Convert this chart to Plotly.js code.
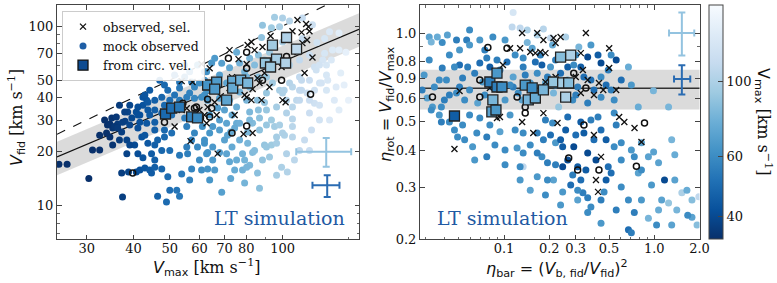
<!DOCTYPE html>
<html>
<head>
<meta charset="utf-8">
<script src="https://cdn.plot.ly/plotly-3.0.1.min.js"></script>
<style>html,body{margin:0;padding:0;background:#fff;}#chart{width:777px;height:283px;}</style>
</head>
<body>
<div id="chart"></div>
<script>
// ---------------- LEFT PANEL DATA (Vmax vs Vfid, km/s) ----------------
const leftDotVmax = [25.3,26.6,30.4,31.1,32.5,34.1,34.6,35.0,36.0,36.3,35.2,37.2,38.4,35.2,39.6,40.7,38.6,41.6,41.1,42.4,43.7,43.4,37.4,37.2,38.8,40.7,41.6,42.9,44.2,44.7,45.6,47.6,49.4,53.8,57.2,60.8,63.1,50.0,52.2,53.1,49.0,46.4,40.3,38.4,41.1,42.4,44.7,45.6,47.6,48.4,50.6,48.4,50.0,53.1,55.8,55.5,57.2,59.3,61.9,63.1,63.9,45.6,46.4,43.7,42.1,34.6,35.6,33.9,67.9,75.4,83.2,86.8,90.6,89.5,93.4,96.4,101.2,106.3,102.5,99.4,85.7,81.7,78.2,74.5,72.2,70.9,67.9,65.9,68.8,92.3,83.2,78.2,73.3,80.7,76.8,71.3,65.1,62.7,61.9,80.7,95.2,95.2,100,104.4,88.4,93.4,98.2,87.9,100,113,123.5,129.5,131,135,141.5,147.6,143,139,131,121.7,125.5,118,111,112.4,106.3,109,102.5,98.2,94.0,90.6,86.2,81.7,90.6,96.4,102.5,90.6,85.7,80.2,76.8,75.4,81.7,86.8,93.4,98.2,73.3,70.0,67.9,63.9,65.1,70.9,76.8,61.1,67.9,63.1,72.2,65.1,70.9,75.4,80.2,72.2,67.9,62.7,76.8,81.7,75.4,86.2,92.3,56.5,54.8,53.1,57.2,58.2,53.1,49.4,51.5,47.6,45.6,43.7,42.4,41.1,50.0,55.5,58.2,60.8,62.7,60.0,45.6,44.2,47.6,41.1,38.0,37.4,39.1,41.6,43.4,45.6,36.3,106.3,111,116.3,121.7,127,132,136,128,123,112.4,104.4,100,106.3,100,96.4,90.6,80.2,75.4,141.5,133.5,120.2,113,129.5,131,121.7,118,59.3,61.9,64.7,
  55.5,58.2,60,65.1,70,72.7,79.2,84.2,88.4,79.2,72.7,63.9,56.5,86.8,96.4,111,107.6,103,114.5,119.5,125.5,118,65.9,68.8,61.9,54.8,51.5,48.4,47,44.2,42.9,39.1,36.7,37.9,89.5,84.2,79.2,104.4,111,118,125.5,111,118,125.5,137.5,146,150,133.5,141.5,106.3,101,89.5,86.2,81.7,74.5,70,67.1,61.9,56.5,53.1,50.6,54.8,48.4,45.6,42.9,39.1,36.7,32.5,33.5];
const leftDotVfid = [17.0,17.0,14.2,20.4,20.4,28.1,24.1,30.8,31.2,28.5,27.1,25.7,23.2,21.8,30.8,33.2,33.2,32.0,27.1,36.3,34.1,38.7,11.2,15.2,15.4,15.4,15.8,16.2,15.8,15.2,16.4,16.0,14.5,15.0,16.0,15.8,16.0,12.2,12.2,11.3,10.5,11.3,21.8,19.5,19.5,18.5,19.5,18.0,20.3,24.1,25.4,26.4,20.3,19.1,19.5,21.2,23.2,21.2,22.3,19.8,25.4,21.8,23.2,22.3,24.1,28.5,27.6,25.4,26.4,28.8,28.8,26.4,28.1,21.8,21.8,24.1,24.7,24.1,19.5,16.4,15.2,16.8,15.8,15.8,17.6,19.5,19.8,15.8,11.9,18.7,19.8,19.5,21.2,22.3,23.2,24.7,21.2,19.5,23.2,25.7,27.6,112,111,106.6,101,98,99,86.4,81.5,85.3,81,70.6,60.7,64.7,73.5,71.6,54.8,45.8,53.4,59.2,48.2,50,52,44.0,45.8,38.7,38.7,44,48.2,52,52,45.8,42.4,35.4,32.8,34.1,38.7,38.7,42.9,35.4,33.2,30.8,30.0,28.1,32.0,34.1,30.0,32.0,27.6,28.8,28.8,27.6,39.7,38.7,38.7,47.0,48.2,50,52,58.7,53.4,55.7,62.3,66.3,71.6,69.0,71.6,55.7,52,48.8,48.8,45.8,45.2,44.0,41.3,40.2,38.7,37.7,40.2,35.4,38.7,40.2,39.7,40.2,44.0,48.2,34.1,32.0,32.8,32.0,29.5,29.2,28.1,29.2,28.8,29.2,27.1,35.4,38.7,42.4,44.0,48.2,50,73.5,64.7,56.9,50,48.2,42.4,27.6,25.4,22.3,21.2,16.4,18.0,91.5,92.9,101.8,111,85.3,44.0,37.2,32.8,60.7,55.7,62.3,
  27.6,25.4,18.0,18.0,23.2,25.7,18.0,20.3,18.0,13.4,14.2,13.9,13.9,12.5,14.8,20.3,18.0,15.4,23.2,26.4,30.0,20.3,66.3,62.0,50,60.7,53.4,47.0,50,44.0,41.3,36.3,36.3,33.2,64.7,60.7,55.7,60.7,64.7,69,60.7,44.0,38.7,36.3,38.7,47,38.7,30.0,34.1,30.4,44,37.5,34.1,30.0,27.1,38.7,35.0,41.3,42.4,38.7,32.0,30.8,36.3,26.4,24.7,21.8,23.2,24.7,30.0];

const leftObsVmax = [60.8,63.9,53.8,57.5,51.5,56.8,72.2,76.3,80.7,82.6,84.2,80.2,88.4,92.9,98.8,109.6,115.6,117.3,118,112.4,106.3,116.3,113,109.6,120.2,114.5,99.4,93.4,89.5,85.7,86.8,75.9,73.3,72.2,66.7,68.4,65.9,63.1,60,58.9,61.9,55.5,53.8,62.7,66.7,74.5,79.2,82.6,87.9,92.3,101.9,83.2,80.2,83.2,78.7,67.1,100];
const leftObsVfid = [61.5,58.3,49.4,48.8,27.6,22.9,73.5,65.5,78.4,81.5,73.5,61.5,76.4,88.0,64.7,108,102.7,99,93.5,92.2,93.5,83.6,80.4,71.6,66.8,54.8,59.2,58.3,54.8,51.3,48.2,48.8,52,45.2,44.0,40.7,37.7,35.4,34.1,32.8,32.0,34.9,34.1,28.8,32.0,32.0,41.3,38.7,38.7,45.8,37.7,44.6,40.2,25.4,25.1,19.5,38.7];

const leftRingVmax = [71.7,80.2,80.2,88.4,99.4,102.5,63.1,58.9,54.2,60.4,63.9,48.4,73.3,80.2,118.8,39.8,58.2,64.7];
const leftRingVfid = [66.3,71.6,58.3,50,50,67.6,39.2,35.4,37.2,30.8,31.2,29.2,25.4,27.8,41.8,15.2,34.9,34.9];

const leftCircVmax = [48.7,50.6,53.1,57.2,59.3,63.1,66.7,65.9,70.9,73.6,73.6,77.3,80.7,90.0,94.0,96.4,92.9,102.5,101.9,109.0];
const leftCircVfid = [32.4,34.9,35.4,31.2,30.8,47.0,48.8,44.6,38.7,49.4,45.2,50,48.2,62.3,78.4,65.5,59.2,86.4,62.3,74.5];

const leftRelX = [25, 160];
const leftRelY = [18.7, 95.9];
const leftBandLow = [14.8, 76.7];
const leftBandHigh = [22.7, 117.7];
const oneToOneX = [25, 160];
const oneToOneY = [25, 160];

const leftErrX = [130.8, 131.6];
const leftErrY = [20.0, 13.0];
const leftErrXPlus = [21.7, 10.3];
const leftErrXMinus = [22.0, 11.4];
const leftErrYPlus = [3.8, 1.8];
const leftErrYMinus = [3.5, 1.8];

// ---------------- RIGHT PANEL DATA (eta_bar, eta_rot, Vmax) ----------------
const rightDotEtaBar = [0.115,0.1132,0.128,0.1428,0.1829,0.1664,0.2039,0.2572,0.1428,0.154,0.2104,0.0318,0.036,0.042,0.0388,0.0328,0.0483,0.0506,0.0564,0.069,0.0843,0.1341,0.3147,0.4223,0.0285,0.0308,0.0334,0.0383,0.0414,0.0506,0.053,0.0573,0.059,0.0638,0.0723,0.0668,0.083,0.094,0.087,0.115,0.1242,0.1341,0.1495,0.1664,0.1664,0.1887,0.2039,0.2135,0.231,0.2655,0.2866,0.3093,0.3402,0.3605,0.3968,0.4423,0.5164,0.541,0.6029,0.783,1.245,0.987,0.0328,0.0383,0.053,0.0659,0.0768,0.1016,0.1341,0.1787,0.1947,0.2203,0.2572,0.2104,0.2135,0.2457,0.2655,0.3093,0.3245,0.335,0.3605,0.3968,0.4423,0.4939,0.541,0.6029,0.6731,0.7364,0.783,0.914,1.068,1.17,1.37,1.245,1.526,1.782,1.98,1.782,1.67,0.6731,0.7038,0.914,1.068,0.4423,0.3788,0.3093,0.1664,0.1947,0.6029,0.8215,0.99,1.37,1.306,0.7364,0.4223,0.541,0.3245,0.2655,0.3402,0.2912,0.2457,0.1341,0.1664,0.1829,0.1222,0.094,0.069,0.0491,0.0433,0.0618,0.0768,0.128,0.1341,0.1664,0.2457,0.2866,0.3093,0.3605,0.4634,0.5164,0.3605,0.0344,0.0401,0.0483,0.0388,0.0468,0.0506,0.069,0.0768,0.0805,0.0898,0.1047,0.115,0.132,0.1616,0.1787,0.1947,0.238,0.2655,0.2912,0.3245,0.3605,0.4423,0.4939,0.6731,0.4423,0.558,
  0.1887,0.2039,0.238,0.3003,0.3788,0.4423,0.4779,0.4093,0.3506,0.2779,0.2203,0.1495,0.1186,0.1097,0.0805,0.059,0.0468,0.0371,0.6029,0.558,0.7038,0.8215,0.959,1.12,0.8215,0.558,0.4779,0.238,0.1887,0.1495,0.128,0.1016,0.087,0.0638,0.0547,1.412,1.649,1.926,1.306,1.036,
  0.0433,0.059,0.0745,0.1016,0.1186,0.1746,0.2203,0.3003,0.3788,0.5164,0.0371,0.0433,0.0547,0.0745,0.1016,0.1097,0.1384,0.2203,0.3003,0.3788,0.4779,0.7038,0.0294,0.0318,0.059];
const rightDotEtaRot = [1.174,1.048,1.040,1.024,1.032,0.984,0.962,0.970,0.929,0.888,0.911,0.970,0.970,0.984,0.929,0.933,0.947,0.876,0.947,0.947,0.970,0.823,0.897,0.842,0.641,0.602,0.561,0.561,0.693,0.779,0.704,0.767,0.641,0.731,0.682,0.579,0.656,0.749,0.548,0.709,0.626,0.767,0.677,0.731,0.593,0.677,0.767,0.626,0.561,0.693,0.593,0.656,0.709,0.579,0.641,0.606,0.641,0.593,0.693,0.561,0.561,0.637,0.548,0.499,0.487,0.458,0.444,0.401,0.352,0.380,0.363,0.424,0.469,0.495,0.317,0.289,0.371,0.352,0.317,0.287,0.392,0.434,0.271,0.352,0.411,0.300,0.271,0.246,0.335,0.380,0.363,0.317,0.317,0.265,0.287,0.271,0.278,0.237,0.241,0.215,0.210,0.235,0.251,0.226,0.257,0.271,0.325,0.317,0.424,0.424,0.395,0.386,0.434,0.380,0.519,0.535,0.499,0.519,0.458,0.411,0.411,0.458,0.458,0.434,0.407,0.462,0.515,0.444,0.499,0.411,0.380,0.352,0.392,0.392,0.352,0.330,0.293,0.276,0.289,0.335,0.246,0.656,0.593,0.626,0.761,0.767,0.656,0.791,0.823,0.767,0.810,0.797,0.656,0.593,0.797,0.779,0.709,0.731,0.767,0.779,0.767,0.829,0.709,0.749,0.767,0.791,0.810,
  0.507,0.451,0.434,0.451,0.507,0.469,0.434,0.371,0.343,0.305,0.357,0.417,0.469,0.527,0.487,0.527,0.469,0.527,0.371,0.487,0.401,0.343,0.305,0.271,0.271,0.251,0.317,0.261,0.282,0.293,0.317,0.357,0.417,0.371,0.434,0.251,0.293,0.223,0.223,0.223,
  0.842,0.911,0.876,0.947,0.842,0.842,0.810,0.842,0.911,0.842,0.693,0.616,0.593,0.616,0.593,0.666,0.720,0.666,0.616,0.693,0.666,0.666,0.720,0.810,1.024];
const rightDotVmax = [130,110,110,100,105,100,110,100,80,70,75,70,75,70,60,80,55,65,55,65,60,60,80,45,55,70,65,60,60,50,55,55,60,55,65,70,60,55,70,70,60,55,65,60,75,70,65,80,90,75,60,55,50,55,50,60,55,60,50,75,80,80,60,55,60,60,55,60,110,60,55,65,45,60,70,65,40,45,50,55,40,50,55,50,60,60,60,55,70,70,70,40,70,90,100,85,110,70,60,50,55,80,75,65,60,70,65,60,60,70,70,75,80,60,55,60,45,50,45,40,45,60,55,55,65,70,60,60,60,65,55,60,60,55,40,55,60,55,60,50,60,60,55,60,55,60,55,50,55,45,55,50,55,70,50,45,55,50,45,60,45,40,60,55,75,40,40,
  55,50,45,50,55,50,45,40,45,50,55,60,60,65,60,60,60,65,60,55,65,60,65,70,65,55,45,65,60,70,65,60,60,65,60,80,75,85,70,60,
  60,65,55,65,60,55,55,60,65,60,60,55,60,60,65,60,55,60,55,50,50,65,65,60,60];

const rightObsEtaBar = [0.0468,0.0506,0.0898,0.1097,0.132,0.128,0.1495,0.1616,0.1746,0.1887,0.1664,0.1829,0.2135,0.2203,0.238,0.3245,0.3506,0.501,0.501,0.335,0.0984,0.0805,0.1887,0.2203,0.227,0.1829,0.1566,0.132,0.094,0.3003,0.3245,0.3605,0.3968,0.4284,0.4576,0.558,0.584,0.632,0.739,0.8215,0.3968,0.4423,0.4093,0.4225];
const rightObsEtaRot = [0.404,0.636,0.515,0.888,1.0,0.888,0.862,0.855,0.862,0.855,1.0,0.947,0.962,0.925,0.970,0.855,1.0,0.888,0.761,0.749,0.779,0.651,0.682,0.709,0.495,0.535,0.458,0.499,0.519,0.709,0.626,0.693,0.616,0.677,0.641,0.641,0.519,0.499,0.476,0.427,0.451,0.380,0.317,0.289];

const rightRingEtaBar = [0.0334,0.069,0.069,0.0781,0.1047,0.1222,0.1384,0.1384,0.2912,0.3506,0.3402,0.2694,0.3093,0.4284,0.7603,0.861];
const rightRingEtaRot = [0.607,0.693,0.607,0.894,0.888,0.607,0.561,0.535,0.731,0.651,0.487,0.377,0.343,0.343,0.353,0.495];

const rightCircEtaBar = [0.0468,0.0805,0.0898,0.0898,0.0969,0.0843,0.083,0.0884,0.1384,0.154,0.145,0.1616,0.1829,0.2135,0.2457,0.2694,0.2572,0.238,0.2779];
const rightCircEtaRot = [0.523,0.682,0.731,0.656,0.656,0.593,0.540,0.548,0.666,0.651,0.593,0.602,0.641,0.682,0.677,0.677,0.606,0.829,0.842];
const rightCircVmax = [45,55,65,55,60,80,70,65,65,60,80,75,80,90,95,85,100,85,100];

const etaRotLine = 0.65;
const etaRotBand = [0.55, 0.75];
const etaBarSpan = [0.01, 5];

const rightErrX = [1.526, 1.526];
const rightErrY = [1.0, 0.698];
const rightErrXPlus = [0.32, 0.21];
const rightErrXMinus = [0.272, 0.172];
const rightErrYPlus = [0.175, 0.079];
const rightErrYMinus = [0.161, 0.079];
const errColors = ['#93c3e0', '#2b6cb2'];

// tick labels
const leftXTicks = [30,40,50,60,70,80,100];
const leftXMinor = [90,150];
const leftYTicks = [10,20,30,40,50,70,100];
const leftYMinor = [7,8,9,60,80,90];
const rightXTicks = [0.1,0.2,0.3,0.5,1.0,2.0];
const rightXTickText = ['0.1','0.2','0.3','0.5','1.0','2.0'];
const rightXMinor = [0.03,0.04,0.05,0.06,0.07,0.08,0.09,0.4,0.6,0.7,0.8,0.9];
const rightYTicks = [0.2,0.3,0.4,0.5,0.6,0.7,0.8,1.0];
const rightYTickText = ['0.2','0.3','0.4','0.5','0.6','0.9','0.8','1.0'];
const rightYMinor = [0.9];
const cbarTicks = [40,60,100];
const cbarTickText = ['40','60','100'];
const cbarRange = [34.2, 169];

// ---------------- STYLE ----------------
const blues_r = [[0,'#08306b'],[0.125,'#08519c'],[0.25,'#2171b5'],[0.375,'#4292c6'],[0.5,'#6baed6'],[0.625,'#9ecae1'],[0.75,'#c6dbef'],[0.875,'#deebf7'],[1,'#f7fbff']];
const lg = a => a.map(v => Math.log10(v));
const cmin = Math.log10(cbarRange[0]), cmax = Math.log10(cbarRange[1]);
const serif = 'DejaVu Serif';
const sans = 'DejaVu Sans';
const frameCol = '#444';

function colored(x, y, v, xa, ya) {
  return {type:'scatter', mode:'markers', x:x, y:y, xaxis:xa, yaxis:ya, showlegend:false, hoverinfo:'skip',
    marker:{size:7, color:lg(v), colorscale:blues_r, cmin:cmin, cmax:cmax, line:{width:0}}};
}

const traces = [];
traces.push({type:'scatter', mode:'lines', x:leftRelX.concat(leftRelX.slice().reverse()), y:leftBandHigh.concat(leftBandLow.slice().reverse()),
  fill:'toself', fillcolor:'rgba(200,200,200,0.65)', line:{width:0}, xaxis:'x', yaxis:'y', showlegend:false, hoverinfo:'skip'});
traces.push({type:'scatter', mode:'lines', x:leftRelX, y:leftRelY, line:{color:'#111', width:1.2}, xaxis:'x', yaxis:'y', showlegend:false, hoverinfo:'skip'});
traces.push({type:'scatter', mode:'lines', x:oneToOneX, y:oneToOneY, line:{color:'#111', width:1.1, dash:'dash'}, xaxis:'x', yaxis:'y', showlegend:false, hoverinfo:'skip'});
traces.push({type:'scatter', mode:'lines', x:[etaBarSpan[0],etaBarSpan[1],etaBarSpan[1],etaBarSpan[0]], y:[etaRotBand[1],etaRotBand[1],etaRotBand[0],etaRotBand[0]],
  fill:'toself', fillcolor:'rgba(200,200,200,0.65)', line:{width:0}, xaxis:'x2', yaxis:'y2', showlegend:false, hoverinfo:'skip'});
traces.push({type:'scatter', mode:'lines', x:etaBarSpan, y:[etaRotLine, etaRotLine], line:{color:'#333', width:1.5}, xaxis:'x2', yaxis:'y2', showlegend:false, hoverinfo:'skip'});

const leftDots = colored(leftDotVmax, leftDotVfid, leftDotVmax, 'x', 'y');
leftDots.marker.showscale = true;
leftDots.marker.colorbar = {
  x: 709/777, xanchor:'left', xref:'paper', y: 1-122/283, yanchor:'middle', yref:'paper',
  len: 234/283, lenmode:'fraction', thickness:14, thicknessmode:'pixels', xpad:0, ypad:0,
  outlinewidth:1, outlinecolor:frameCol,
  tickvals: lg(cbarTicks), ticktext: cbarTickText, ticks:'inside', ticklen:5, tickcolor:frameCol,
  tickfont:{family:serif, size:13, color:'#111'}
};
traces.push(leftDots);
traces.push(colored(rightDotEtaBar, rightDotEtaRot, rightDotVmax, 'x2', 'y2'));

const ringStyle = {symbol:'circle-open', size:6, color:'#111', line:{width:1.5, color:'#111'}};
traces.push({type:'scatter', mode:'markers', x:leftRingVmax, y:leftRingVfid, xaxis:'x', yaxis:'y', marker:ringStyle, showlegend:false, hoverinfo:'skip'});
traces.push({type:'scatter', mode:'markers', x:rightRingEtaBar, y:rightRingEtaRot, xaxis:'x2', yaxis:'y2', marker:ringStyle, showlegend:false, hoverinfo:'skip'});
const crossStyle = {symbol:'x-thin', size:6, color:'#111', line:{width:1.3, color:'#111'}};
traces.push({type:'scatter', mode:'markers', x:leftObsVmax, y:leftObsVfid, xaxis:'x', yaxis:'y', marker:crossStyle, showlegend:false, hoverinfo:'skip'});
traces.push({type:'scatter', mode:'markers', x:rightObsEtaBar, y:rightObsEtaRot, xaxis:'x2', yaxis:'y2', marker:crossStyle, showlegend:false, hoverinfo:'skip'});
const sqL = colored(leftCircVmax, leftCircVfid, leftCircVmax, 'x', 'y');
sqL.marker.symbol = 'square'; sqL.marker.size = 10; sqL.marker.line = {width:1.3, color:'#222'};
traces.push(sqL);
const sqR = colored(rightCircEtaBar, rightCircEtaRot, rightCircVmax, 'x2', 'y2');
sqR.marker.symbol = 'square'; sqR.marker.size = 10; sqR.marker.line = {width:1.3, color:'#222'};
traces.push(sqR);

for (let i = 0; i < 2; i++) {
  traces.push({type:'scatter', mode:'markers', x:[leftErrX[i]], y:[leftErrY[i]], xaxis:'x', yaxis:'y', showlegend:false, hoverinfo:'skip',
    marker:{size:1, color:errColors[i]},
    error_x:{type:'data', symmetric:false, array:[leftErrXPlus[i]], arrayminus:[leftErrXMinus[i]], color:errColors[i], thickness:2, width:3.5},
    error_y:{type:'data', symmetric:false, array:[leftErrYPlus[i]], arrayminus:[leftErrYMinus[i]], color:errColors[i], thickness:2, width:3.5}});
  traces.push({type:'scatter', mode:'markers', x:[rightErrX[i]], y:[rightErrY[i]], xaxis:'x2', yaxis:'y2', showlegend:false, hoverinfo:'skip',
    marker:{size:1, color:errColors[i]},
    error_x:{type:'data', symmetric:false, array:[rightErrXPlus[i]], arrayminus:[rightErrXMinus[i]], color:errColors[i], thickness:2, width:3.5},
    error_y:{type:'data', symmetric:false, array:[rightErrYPlus[i]], arrayminus:[rightErrYMinus[i]], color:errColors[i], thickness:2, width:3.5}});
}

traces.push({type:'scatter', mode:'markers', x:[null], y:[null], xaxis:'x', yaxis:'y', name:'observed, sel.', marker:crossStyle});
traces.push({type:'scatter', mode:'markers', x:[null], y:[null], xaxis:'x', yaxis:'y', name:'mock observed', marker:{size:7, color:'#1f5fa6'}});
traces.push({type:'scatter', mode:'markers', x:[null], y:[null], xaxis:'x', yaxis:'y', name:'from circ. vel.', marker:{symbol:'square', size:10, color:'#0e4b91', line:{width:1.3, color:'#111'}}});

function axis(dom, range, tv, tt, minor, anchor, standoff) {
  return {type:'log', domain:dom, range:range, anchor:anchor, showgrid:false, zeroline:false,
    showline:true, linecolor:frameCol, linewidth:1, mirror:'ticks',
    ticks:'inside', ticklen:4.5, tickwidth:1, tickcolor:frameCol,
    tickmode:'array', tickvals:tv, ticktext:tt, ticklabelstandoff:standoff,
    tickfont:{family:serif, size:13, color:'#111'},
    minor:{ticks:'inside', ticklen:2.5, tickwidth:0.8, tickcolor:frameCol, tickvals:minor, showgrid:false}};
}
const yDom = [1-239/283, 1-5/283];
const ann = (x, y, text, font, angle) => ({xref:'paper', yref:'paper', x:x/777, y:1-y/283, xanchor:'center', yanchor:'middle',
  text:text, showarrow:false, font:font, textangle:angle||0});
const layout = {
  width:777, height:283, margin:{l:0, r:0, t:0, b:0}, paper_bgcolor:'#fff', plot_bgcolor:'#fff',
  showlegend:true,
  legend:{x:62/777, y:1-11/283, xanchor:'left', yanchor:'top', bgcolor:'rgba(255,255,255,0.9)', bordercolor:'#ccc', borderwidth:1,
    font:{family:serif, size:12.5, color:'#111'}, tracegroupgap:0, itemwidth:30},
  xaxis: axis([57/777, 359/777], [Math.log10(25), Math.log10(160)], leftXTicks, leftXTicks.map(String), leftXMinor, 'y', -3),
  yaxis: axis(yDom, [Math.log10(6.53), Math.log10(131)], leftYTicks, leftYTicks.map(String), leftYMinor, 'x', 0),
  xaxis2: axis([420/777, 699.5/777], [Math.log10(0.0276), Math.log10(2.0)], rightXTicks, rightXTickText, rightXMinor, 'y2', -3),
  yaxis2: axis(yDom, [Math.log10(0.2), Math.log10(1.245)], rightYTicks, rightYTickText, rightYMinor, 'x2', 0),
  annotations:[
    ann(279, 218, 'LT simulation', {family:serif, size:19, color:'#1f5aa3'}),
    ann(502, 218, 'LT simulation', {family:serif, size:19, color:'#1f5aa3'}),
    ann(207, 267, "<span style=\"font-family:'DejaVu Sans';font-style:italic\">V</span><sub><span style=\"font-family:'DejaVu Sans'\">max</span></sub> [km s<sup>−1</sup>]", {family:serif, size:16, color:'#111'}),
    ann(16, 118, "<span style=\"font-family:'DejaVu Sans';font-style:italic\">V</span><sub><span style=\"font-family:'DejaVu Sans'\">fid</span></sub> [km s<sup>−1</sup>]", {family:serif, size:16, color:'#111'}, -90),
    ann(557, 268, '<i>η</i><sub>bar</sub> = (<i>V</i><sub>b, fid</sub>/<i>V</i><sub>fid</sub>)<sup>2</sup>', {family:sans, size:16, color:'#111'}),
    ann(387, 104, '<i>η</i><sub>rot</sub> = <i>V</i><sub>fid</sub>/<i>V</i><sub>max</sub>', {family:sans, size:16, color:'#111'}, -90),
    ann(763, 122, "<span style=\"font-family:'DejaVu Sans'\">V</span><sub><span style=\"font-family:'DejaVu Sans'\">max</span></sub> [km s<sup>−1</sup>]", {family:serif, size:16, color:'#111'}, 90)
  ]
};
Plotly.newPlot('chart', traces, layout, {staticPlot:true, displayModeBar:false});
</script>
</body>
</html>
